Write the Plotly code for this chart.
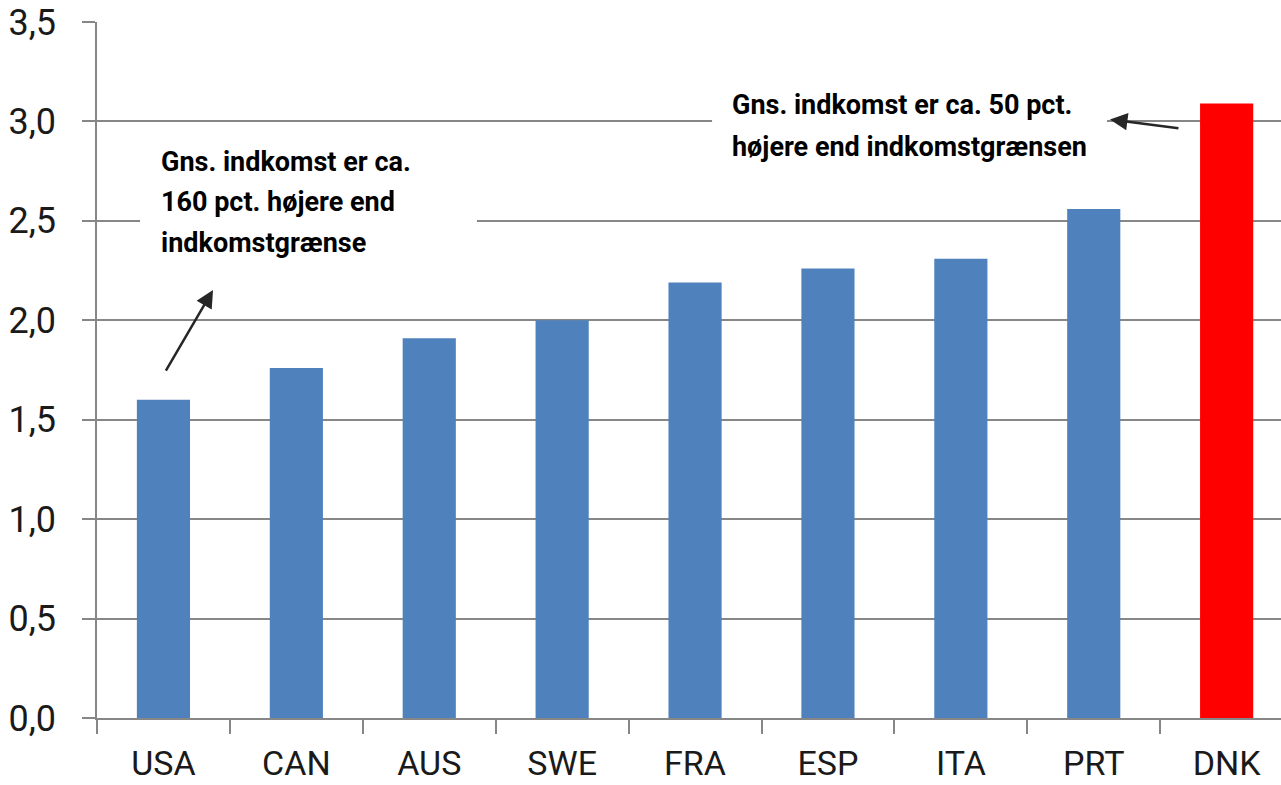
import plotly.graph_objects as go

countries = ["USA", "CAN", "AUS", "SWE", "FRA", "ESP", "ITA", "PRT", "DNK"]
values = [1.60, 1.76, 1.91, 2.00, 2.19, 2.26, 2.31, 2.56, 3.09]
bar_colors = ["#4F81BD"] * 8 + ["#FF0000"]
y_ticks = [0, 0.5, 1.0, 1.5, 2.0, 2.5, 3.0, 3.5]
y_ticklabels = ["0,0", "0,5", "1,0", "1,5", "2,0", "2,5", "3,0", "3,5"]
note_left = ["Gns. indkomst er ca.", "160 pct. højere end", "indkomstgrænse"]
note_right = ["Gns. indkomst er ca. 50 pct.", "højere end indkomstgrænsen"]

FONT = "Roboto, sans-serif"
GRID = "#878787"

fig = go.Figure(go.Bar(
    x=countries, y=values, marker_color=bar_colors, width=0.40,
    marker_line_width=0,
))

fig.update_layout(
    width=1281, height=785,
    margin=dict(l=97, r=0, t=22, b=67),
    paper_bgcolor="white", plot_bgcolor="white",
    showlegend=False,
    font=dict(family=FONT, color="#1a1a1a"),
)
fig.update_xaxes(
    range=[-0.5, 8.409], showgrid=False, showline=True, linecolor=GRID, linewidth=1.5,
    ticks="outside", tickson="boundaries", ticklen=14, tickcolor=GRID, tickwidth=1.5,
    tickfont=dict(size=34, family=FONT, color="#1a1a1a"), ticklabelstandoff=14,
    automargin=False,
)
fig.update_yaxes(
    range=[0, 3.5], tickvals=y_ticks, ticktext=y_ticklabels,
    showgrid=True, gridcolor=GRID, gridwidth=1.5, zeroline=False,
    showline=True, linecolor=GRID, linewidth=1.5,
    ticks="outside", ticklen=13, tickcolor=GRID, tickwidth=1.5,
    tickfont=dict(size=36, family=FONT, color="#1a1a1a"), ticklabelstandoff=19,
    automargin=False,
)

# white boxes hiding gridlines behind the notes
fig.add_shape(type="rect", xref="x", yref="y", x0=-0.176, x1=2.359, y0=2.30, y1=2.93,
              fillcolor="white", line_width=0, layer="above")
fig.add_shape(type="rect", xref="x", yref="y", x0=4.128, x1=7.10, y0=2.81, y1=3.2,
              fillcolor="white", line_width=0, layer="above")

left_y = [2.796, 2.595, 2.389]
for txt, yy in zip(note_left, left_y):
    fig.add_annotation(x=-0.0335, y=yy, xref="x", yref="y", text=txt, showarrow=False,
                       xanchor="left", yanchor="middle", align="left",
                       font=dict(size=27, family=FONT, color="black", weight="bold"))
right_y = [3.083, 2.872]
for txt, yy in zip(note_right, right_y):
    fig.add_annotation(x=4.263, y=yy, xref="x", yref="y", text=txt, showarrow=False,
                       xanchor="left", yanchor="middle", align="left",
                       font=dict(size=27, family=FONT, color="black", weight="bold"))

# arrows
fig.add_annotation(x=0.373, y=2.152, xref="x", yref="y", ax=-48, ay=82, text="",
                   showarrow=True, arrowhead=2, arrowsize=1.4, arrowwidth=2.5, arrowcolor="#262626")
fig.add_annotation(x=7.122, y=3.01, xref="x", yref="y", ax=70, ay=9, text="",
                   showarrow=True, arrowhead=2, arrowsize=1.4, arrowwidth=2.5, arrowcolor="#262626")

fig.write_html("out.html", config={"displayModeBar": False},
               post_script="document.body.style.margin='0';")
